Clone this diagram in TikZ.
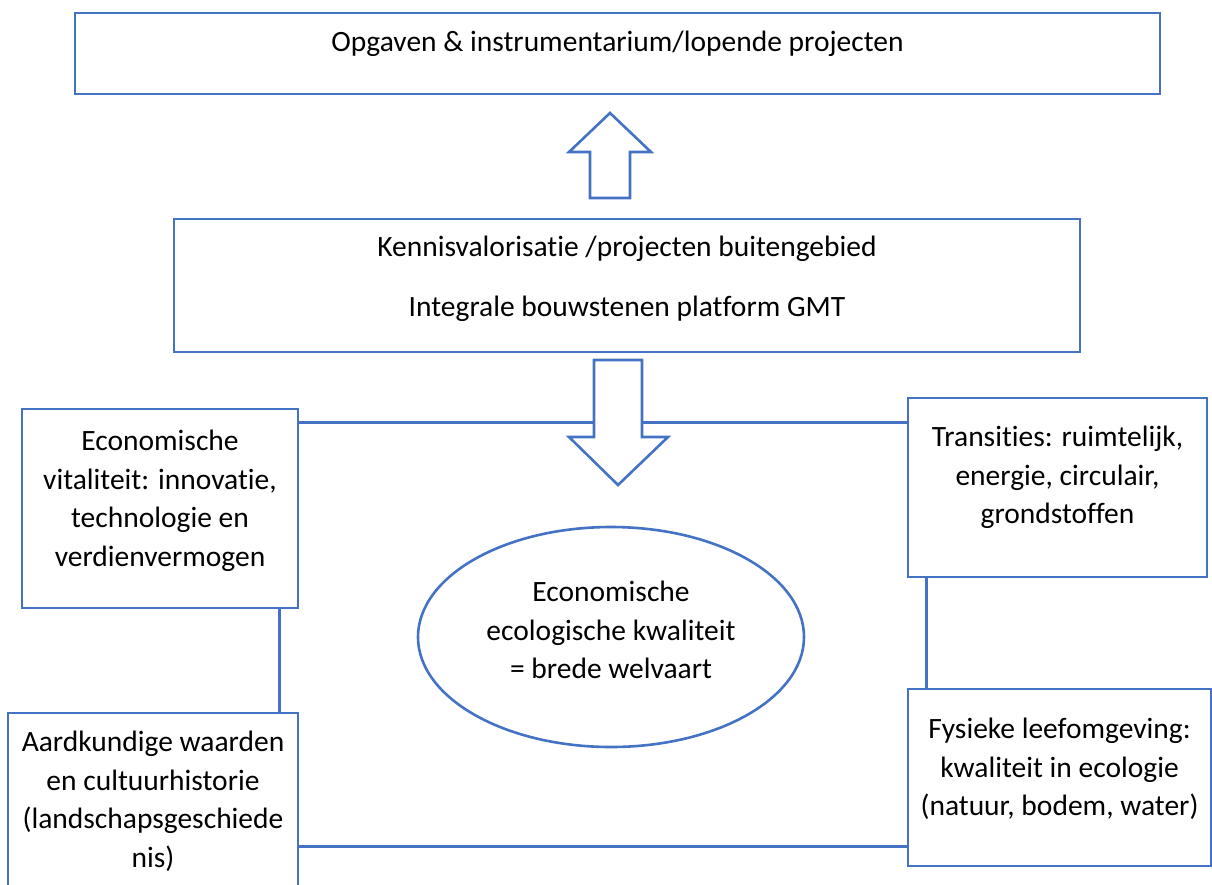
\documentclass[tikz,border=0pt]{standalone}
\usepackage{fontspec}
\setmainfont{Carlito}[Ligatures={NoCommon,NoContextual}]
\usetikzlibrary{positioning}
\usetikzlibrary{shapes.geometric}
\usetikzlibrary{calc}

\definecolor{lijnblauw}{HTML}{4472C4}

\tikzset{
  kader/.style={draw=lijnblauw, line width=2.6pt, rectangle, inner sep=0pt, fill=white},
  tekst/.style={inner sep=0pt, align=center, font=\fontsize{29.5}{38.5}\selectfont},
  lijn/.style={draw=lijnblauw, line width=2.6pt},
  blokpijl/.style={draw=lijnblauw, line width=2.6pt, fill=white, line join=miter}
}

\begin{document}
\begin{tikzpicture}[x=1pt,y=-1pt]
  \clip (0,0) rectangle (1212,884);
  % Place boxes
  \node [kader, minimum width=1085pt, minimum height=81pt] (opgaven) at (617.5,53.5) {};
  \node [kader, minimum width=906pt, minimum height=133pt] (kennis) at (627,285.5) {};
  \node [kader, minimum width=276pt, minimum height=199pt] (econ) at (160,508.5) {};
  \node [kader, minimum width=290pt, minimum height=192pt] (aard) at (153,809) {};
  \node [kader, minimum width=299pt, minimum height=179pt] (trans) at (1057.5,487.5) {};
  \node [kader, minimum width=303pt, minimum height=177pt] (fysiek) at (1059.5,777.5) {};
  \node [draw=lijnblauw, line width=2.6pt, ellipse, minimum width=386pt, minimum height=220pt, inner sep=0pt] (welvaart) at (611,637) {};

  % Texts
  \node [tekst, below=13pt of opgaven.north] (t-opgaven) {\strut Opgaven \& instrumentarium/lopende projecten};
  \node [tekst, below=12pt of kennis.north] (t-kennis) {\strut Kennisvalorisatie /projecten buitengebied\\[21.5pt]\strut Integrale bouwstenen platform GMT};
  \node [tekst, below=16pt of econ.north] (t-econ) {\strut Economische\\vitaliteit: innovatie,\\technologie en\\verdienvermogen};
  \node [tekst, below=13pt of aard.north] (t-aard) {\strut Aardkundige waarden\\en cultuurhistorie\\(landschapsgeschiede\\nis)};
  \node [tekst, below=23pt of trans.north] (t-trans) {\strut Transities: ruimtelijk,\\energie, circulair,\\grondstoffen};
  \node [tekst, below=24pt of fysiek.north] (t-fysiek) {\strut Fysieke leefomgeving:\\kwaliteit in ecologie\\(natuur, bodem, water)};
  \node [tekst, below=49pt of welvaart.north] (t-welvaart) {\strut Economische\\ecologische kwaliteit\\= brede welvaart};

  % Connectors
  \draw [lijn] ($(econ.north east)+(0,15)$) coordinate (h1) -- (h1 -| trans.west);
  \draw [lijn] ($(econ.south east)+(-20,0)$) -- ($(aard.north east)+(-20,0)$);
  \draw [lijn] ($(trans.south west)+(20,0)$) -- ($(fysiek.north west)+(20,0)$);
  \draw [lijn] ($(aard.north east)+(0,135)$) coordinate (h2) -- (h2 -| fysiek.west);

  % Block arrows
  \draw [blokpijl] (590,198) -- (590,152) -- (569,152) -- (610,113) -- (651,152) -- (630,152) -- (630,198) -- cycle;
  \draw [blokpijl] (594,360) -- (642,360) -- (642,437) -- (668,437) -- (618,485) -- (569,437) -- (594,437) -- cycle;
\end{tikzpicture}
\end{document}
